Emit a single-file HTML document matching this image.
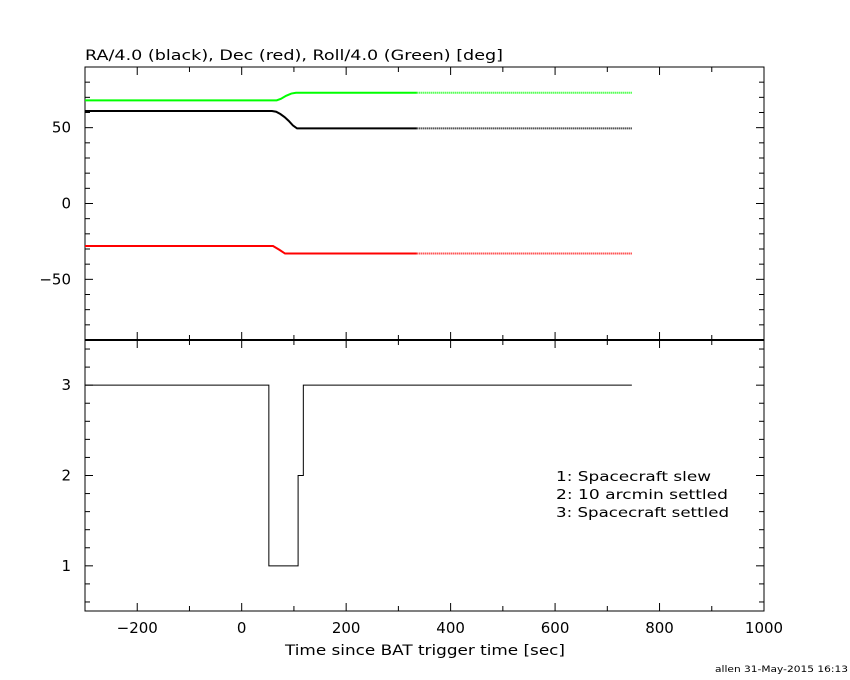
<!DOCTYPE html>
<html><head><meta charset="utf-8"><style>
body{margin:0;background:#fff}
svg{display:block;font-family:"DejaVu Sans","Liberation Sans",sans-serif}
</style></head><body>
<svg id="c" width="850" height="680" xmlns="http://www.w3.org/2000/svg">
<rect width="850" height="680" fill="#fff"/>
<text x="85" y="60" font-size="14" textLength="418" lengthAdjust="spacingAndGlyphs">RA/4.0 (black), Dec (red), Roll/4.0 (Green) [deg]</text>
<text x="285" y="655" font-size="14" textLength="280" lengthAdjust="spacingAndGlyphs">Time since BAT trigger time [sec]</text>
<text x="556" y="481" font-size="13.5" textLength="155" lengthAdjust="spacingAndGlyphs">1: Spacecraft slew</text>
<text x="556" y="499" font-size="13.5" textLength="172" lengthAdjust="spacingAndGlyphs">2: 10 arcmin settled</text>
<text x="556" y="517" font-size="13.5" textLength="173" lengthAdjust="spacingAndGlyphs">3: Spacecraft settled</text>
<text x="715" y="672" font-size="9" textLength="133" lengthAdjust="spacingAndGlyphs">allen 31-May-2015 16:13</text>
<g id="g"></g>
</svg>
<script>
const xTicks=[-200,0,200,400,600,800,1000];
const yTopTicks=[-50,0,50];
const yBotTicks=[1,2,3];
const raT=[-300,58,66,74,82,90,98,106,335];
const raV=[61,61,60.5,59,57,54.5,51.5,49.5,49.5];
const decT=[-300,60,72,83,335];
const decV=[-28,-28,-30.5,-33,-33];
const rollT=[-300,67,75,85,95,104,335];
const rollV=[68,68,69,71,72.5,73,73];
const dotT=[335,747];
const stT=[-300,52,52,108,108,118,118,747];
const stV=[3,3,1,1,2,2,3,3];
const L=85,R=764,T=67,M=340,B=611;
const X=v=>L+(v+300)*(R-L)/1300;
const YT=v=>M-(v+90)*(M-T)/180;
const YB=v=>B-(v-0.5)*(B-M)/3;
const g=document.getElementById('g');
const NS='http://www.w3.org/2000/svg';
function mk(t,a){const e=document.createElementNS(NS,t);for(const k in a)e.setAttribute(k,a[k]);g.appendChild(e);return e;}
function line(x1,y1,x2,y2,w){return mk('line',{x1,y1,x2,y2,stroke:'#000','stroke-width':w||1});}
let e;
e=mk('rect',{x:L,y:T,width:R-L,height:B-T,fill:'none',stroke:'#000','stroke-width':1});


e=line(L,M,R,M,2);


for(let v=-300;v<=1000;v+=100){const maj=v%200===0;const len=maj?8:5;
 [T,M].forEach(y=>{line(X(v),y,X(v),y+len);});
 [M,B].forEach(y=>{line(X(v),y,X(v),y-len);});}
xTicks.forEach(v=>{const t=mk('text',{x:X(v),y:B+22,'font-size':15,'text-anchor':'middle'});t.textContent=(v<0?'\u2212'+(-v):v);

});
for(let v=-90;v<=90;v+=10){const len=v%50===0?8:5;line(L,YT(v),L+len,YT(v));line(R,YT(v),R-len,YT(v));}
yTopTicks.forEach(v=>{const t=mk('text',{x:L-14,y:YT(v)+5,'font-size':15,'text-anchor':'end'});t.textContent=(v<0?'\u2212'+(-v):v);

});
for(let i=0;i<=15;i++){const v=0.6+i*0.2;if(v>3.5)break;const maj=Math.abs(v-Math.round(v))<1e-6;const len=maj?8:5;line(L,YB(v),L+len,YB(v));line(R,YB(v),R-len,YB(v));}
yBotTicks.forEach(v=>{const t=mk('text',{x:L-14,y:YB(v)+5,'font-size':15,'text-anchor':'end'});t.textContent=v;

});
function series(ts,vs,col,name){
 const p=mk('polyline',{points:ts.map((t,i)=>X(t)+','+YT(vs[i])).join(' '),fill:'none',stroke:col,'stroke-width':2});
 
 
 const last=vs[vs.length-1];
 const d=mk('line',{x1:X(dotT[0]),y1:YT(last),x2:X(dotT[1]),y2:YT(last),stroke:col,'stroke-width':2,'stroke-dasharray':'1 1'});
 
 
}
series(rollT,rollV,'#00ff00','roll');
series(raT,raV,'#000','ra');
series(decT,decV,'#ff0000','dec');
e=mk('polyline',{points:stT.map((t,i)=>X(t)+','+YB(stV[i])).join(' '),fill:'none',stroke:'#000','stroke-width':1});


</script>
</body></html>
